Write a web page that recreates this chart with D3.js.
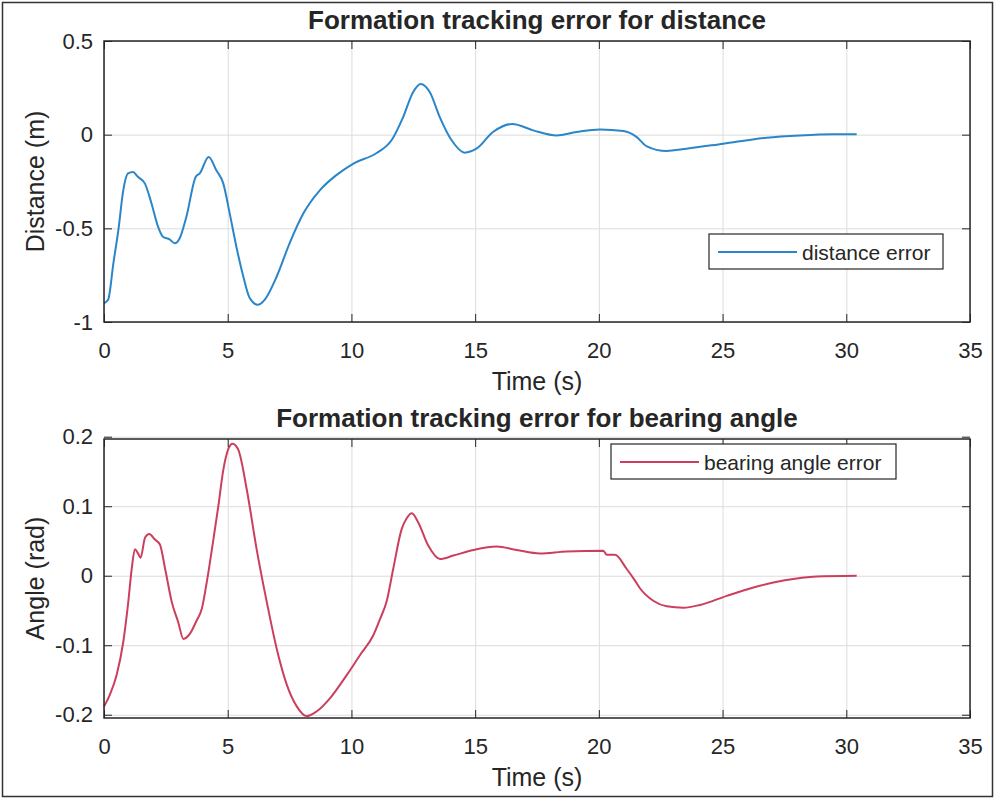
<!DOCTYPE html>
<html>
<head>
<meta charset="utf-8">
<script src="https://cdn.jsdelivr.net/npm/d3@7"></script>
<style>
  body { margin: 0; background: #fff; }
  svg text { font-family: "Liberation Sans", Arial, Helvetica, sans-serif; fill: #262626; }
</style>
</head>
<body>
<div id="chart"></div>
<script>
// tick values shared by both panels
const timeTicks = [0, 5, 10, 15, 20, 25, 30, 35];
const distTicks = [-1, -0.5, 0, 0.5];
const angleTicks = [-0.2, -0.1, 0, 0.1, 0.2];

// distance error (m)
const distTime = [0, 0.17, 0.38, 0.58, 0.78, 0.97, 1.17, 1.37, 1.65, 1.92, 2.18, 2.38, 2.65, 2.86, 3.06, 3.33, 3.71, 3.87, 4.23, 4.54, 4.82, 5.08, 5.35, 5.63, 5.89, 6.21, 6.5, 6.98, 7.5, 8.06, 8.73, 9.39, 10.08, 11.02, 11.62, 12.09, 12.49, 12.8, 13.17, 13.57, 14.05, 14.58, 15.05, 15.72, 16.5, 17.35, 18.3, 19.1, 20.05, 21.0, 21.53, 21.94, 22.73, 23.54, 25.03, 26.78, 28.13, 29.48, 30.42];
const distErr = [-0.9, -0.88, -0.686, -0.51, -0.296, -0.207, -0.199, -0.225, -0.26, -0.367, -0.49, -0.545, -0.559, -0.58, -0.553, -0.438, -0.225, -0.207, -0.119, -0.19, -0.26, -0.42, -0.598, -0.757, -0.872, -0.908, -0.88, -0.757, -0.58, -0.42, -0.296, -0.216, -0.154, -0.098, -0.03, 0.094, 0.227, 0.271, 0.227, 0.094, -0.03, -0.096, -0.075, 0.014, 0.057, 0.023, -0.004, 0.014, 0.028, 0.019, -0.013, -0.062, -0.087, -0.075, -0.048, -0.016, -0.004, 0.002, 0.002];

// bearing angle error (rad)
const angleTime = [0, 0.24, 0.51, 0.78, 0.98, 1.12, 1.25, 1.39, 1.48, 1.66, 1.83, 2.06, 2.26, 2.47, 2.74, 3.0, 3.21, 3.48, 3.75, 3.95, 4.15, 4.42, 4.62, 4.82, 5.03, 5.2, 5.43, 5.77, 6.17, 6.58, 6.98, 7.39, 7.79, 8.19, 8.6, 9.14, 9.81, 10.35, 10.88, 11.16, 11.43, 11.69, 12.03, 12.24, 12.44, 12.71, 13.11, 13.58, 14.12, 14.93, 15.87, 16.68, 17.62, 18.7, 20.18, 20.32, 20.65, 21.12, 21.46, 21.66, 22.2, 22.74, 23.42, 24.09, 25.17, 26.25, 27.46, 28.81, 30.42];
const angleErr = [-0.188, -0.171, -0.143, -0.095, -0.038, 0.01, 0.038, 0.031, 0.026, 0.055, 0.06, 0.052, 0.045, 0.01, -0.038, -0.067, -0.091, -0.083, -0.064, -0.048, -0.01, 0.052, 0.1, 0.152, 0.183, 0.19, 0.181, 0.124, 0.038, -0.038, -0.105, -0.157, -0.188, -0.202, -0.195, -0.176, -0.143, -0.114, -0.086, -0.062, -0.036, 0.01, 0.067, 0.083, 0.09, 0.076, 0.043, 0.024, 0.029, 0.037, 0.042, 0.037, 0.032, 0.035, 0.036, 0.03, 0.03, 0.01, -0.007, -0.018, -0.036, -0.044, -0.046, -0.042, -0.029, -0.017, -0.007, -0.001, 0];

const W = 995, H = 799;

const svg = d3.select("#chart")
  .append("svg")
    .attr("width", W)
    .attr("height", H);

// outer figure frame
svg.append("rect")
  .attr("x", 2.5).attr("y", 2.5)
  .attr("width", W - 5).attr("height", H - 5)
  .attr("fill", "#fff")
  .attr("stroke", "#333")
  .attr("stroke-width", 1.5);

const fmt = d => String(d);

function drawPanel(opt) {
  const left = 104, right = 970;
  const x = d3.scaleLinear().domain([0, 35]).range([left, right]);
  const y = d3.scaleLinear().domain(opt.yDomain).range([opt.bottom, opt.top]);
  const g = svg.append("g");

  // grid
  g.append("g")
    .attr("transform", `translate(0,${opt.bottom})`)
    .call(d3.axisBottom(x).tickValues(timeTicks).tickSize(-(opt.bottom - opt.top)).tickFormat(""))
    .call(a => a.select(".domain").remove())
    .call(a => a.selectAll("line").attr("stroke", "#dcdcdc").attr("stroke-width", 1));
  g.append("g")
    .attr("transform", `translate(${left},0)`)
    .call(d3.axisLeft(y).tickValues(opt.yTicks).tickSize(-(right - left)).tickFormat(""))
    .call(a => a.select(".domain").remove())
    .call(a => a.selectAll("line").attr("stroke", "#dcdcdc").attr("stroke-width", 1));

  // the line
  const data = opt.t.map((t, i) => ({ t: t, v: opt.v[i] }));
  g.append("path")
    .datum(data)
    .attr("fill", "none")
    .attr("stroke", opt.color)
    .attr("stroke-width", 2)
    .attr("d", d3.line()
      .x(d => x(d.t))
      .y(d => y(d.v))
      .curve(d3.curveMonotoneX));

  // inward ticks on all four sides
  const tl = 8;
  const axes = [
    [d3.axisBottom(x).tickValues(timeTicks).tickSize(-tl).tickFormat(fmt).tickPadding(20), `translate(0,${opt.bottom})`],
    [d3.axisTop(x).tickValues(timeTicks).tickSize(-tl).tickFormat(""), `translate(0,${opt.top})`],
    [d3.axisLeft(y).tickValues(opt.yTicks).tickSize(-tl).tickFormat(fmt).tickPadding(11), `translate(${left},0)`],
    [d3.axisRight(y).tickValues(opt.yTicks).tickSize(-tl).tickFormat(""), `translate(${right},0)`]
  ];
  axes.forEach(([ax, tr]) => {
    g.append("g")
      .attr("transform", tr)
      .call(ax)
      .call(a => a.select(".domain").remove())
      .call(a => a.selectAll("line").attr("stroke", "#262626").attr("stroke-width", 1))
      .call(a => a.selectAll("text")
        .attr("font-size", 22)
        .style("font-family", '"Liberation Sans", Arial, sans-serif')
        .attr("fill", "#262626"));
  });

  // axes box
  g.append("rect")
    .attr("x", left).attr("y", opt.top)
    .attr("width", right - left).attr("height", opt.bottom - opt.top)
    .attr("fill", "none")
    .attr("stroke", "#262626")
    .attr("stroke-width", 1.5);

  // title and labels
  g.append("text")
    .attr("x", (left + right) / 2).attr("y", opt.top - 12)
    .attr("text-anchor", "middle")
    .attr("font-size", 26)
    .attr("font-weight", "bold")
    .attr("fill", "#000")
    .text(opt.title);
  g.append("text")
    .attr("x", (left + right) / 2).attr("y", opt.bottom + 68)
    .attr("text-anchor", "middle")
    .attr("font-size", 25)
    .text("Time (s)");
  g.append("text")
    .attr("transform", `translate(44,${(opt.top + opt.bottom) / 2}) rotate(-90)`)
    .attr("text-anchor", "middle")
    .attr("font-size", 25)
    .text(opt.yLabel);

  // legend
  const L = opt.legend;
  const lg = g.append("g").attr("transform", `translate(${L.x},${L.y})`);
  lg.append("rect")
    .attr("width", L.w).attr("height", 35)
    .attr("fill", "#fff")
    .attr("stroke", "#262626")
    .attr("stroke-width", 1.2);
  lg.append("line")
    .attr("x1", 9).attr("x2", 88)
    .attr("y1", 18).attr("y2", 18)
    .attr("stroke", opt.color)
    .attr("stroke-width", 2);
  lg.append("text")
    .attr("x", 93).attr("y", 25.5)
    .attr("font-size", 21)
    .text(opt.label);
}

drawPanel({
  top: 41, bottom: 322,
  yDomain: [-1, 0.5], yTicks: distTicks,
  t: distTime, v: distErr,
  color: "#2a86c8",
  title: "Formation tracking error for distance",
  yLabel: "Distance (m)",
  label: "distance error",
  legend: { x: 709, y: 234, w: 234 }
});

drawPanel({
  top: 439, bottom: 718,
  yDomain: [-0.2047, 0.1967], yTicks: angleTicks,
  t: angleTime, v: angleErr,
  color: "#cc3f5c",
  title: "Formation tracking error for bearing angle",
  yLabel: "Angle (rad)",
  label: "bearing angle error",
  legend: { x: 611, y: 444, w: 285 }
});
</script>
</body>
</html>
